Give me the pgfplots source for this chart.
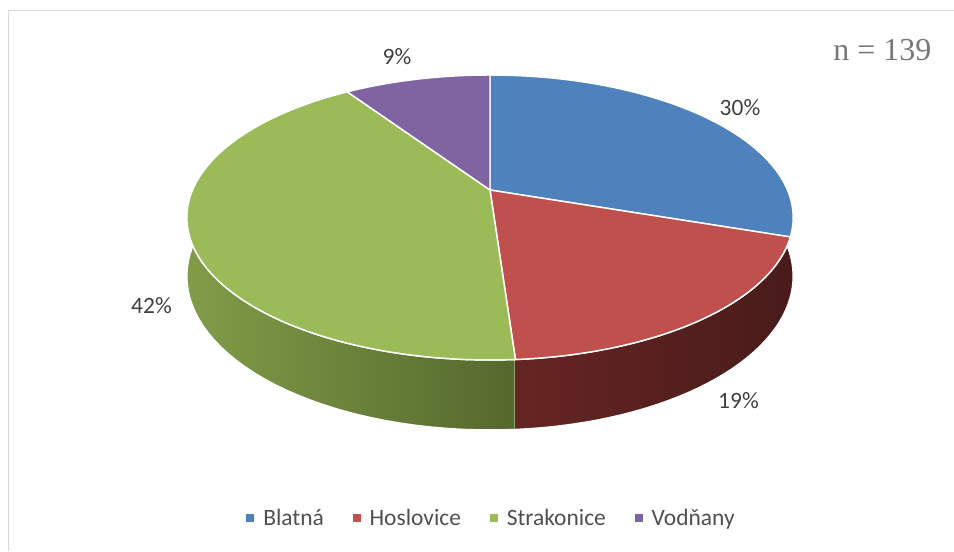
\documentclass[border=0pt]{standalone}
\usepackage{pgfplots}
\pgfplotsset{compat=1.18}
\usepackage{pgfplotstable}
\usepackage{fontspec}
\setmainfont{Carlito}
\newfontfamily\timesfont{Liberation Serif}
\definecolor{blatna}{RGB}{79,129,189}
\definecolor{hoslovice}{RGB}{192,80,77}
\definecolor{strakonice}{RGB}{155,187,89}
\definecolor{vodnany}{RGB}{128,100,162}
\definecolor{hosL}{RGB}{102,37,35}
\definecolor{hosR}{RGB}{72,27,26}
\definecolor{strL}{RGB}{130,156,72}
\definecolor{strR}{RGB}{84,104,44}
\definecolor{labelgray}{RGB}{64,64,64}
\definecolor{legendgray}{RGB}{80,80,80}
\definecolor{ngray}{RGB}{120,120,120}
\definecolor{bordergray}{RGB}{217,217,217}

\pgfplotstableread{
idx value
0 30.2
1 18.7
2 41.7
3 9.4
}\piedata

\newcommand\topsector[3]{%
  \addplot[fill=#3, draw=white, line width=1.1pt, line join=round, variable=\u,
    samples at={-1,0,1,...,60,61}, forget plot]
   ({((\u<0)||(\u>60)) ? 490 : PX(#1+(#2-#1)*\u/60)},
    {((\u<0)||(\u>60)) ? 190 : PY(#1+(#2-#1)*\u/60)});}
\newcommand\sideface[4]{%
  \addplot[shading=axis, left color=#3, right color=#4, draw=white, line width=1.1pt,
    line join=round, variable=\u, samples at={0,1,...,81}, forget plot]
   ({PX(TH(\u,#1,#2))},
    {PY(TH(\u,#1,#2)) + (\u>40)*DH(TH(\u,#1,#2))});}

\begin{document}
\begin{tikzpicture}
\pgfplotstablegetelem{0}{value}\of\piedata \let\vA\pgfplotsretval
\pgfplotstablegetelem{1}{value}\of\piedata \let\vB\pgfplotsretval
\pgfplotstablegetelem{2}{value}\of\piedata \let\vC\pgfplotsretval
\pgfplotstablegetelem{3}{value}\of\piedata \let\vD\pgfplotsretval
\pgfmathsetmacro\aA{90}
\pgfmathsetmacro\aB{\aA-3.6*\vA}
\pgfmathsetmacro\aC{\aB-3.6*\vB}
\pgfmathsetmacro\aD{\aC-3.6*\vC}
\pgfmathsetmacro\aE{\aD-3.6*\vD}
\begin{axis}[
  scale only axis, width=715.5pt, height=413.25pt,
  xmin=0, xmax=954, ymin=0, ymax=551, y dir=reverse,
  hide axis, clip=false,
  /pgf/declare function={
    den(\t)=1+0.193*sin(\t);
    PX(\t)=490+297.5*cos(\t)/den(\t);
    PY(\t)=190-137.2*sin(\t)/den(\t);
    DH(\t)=56.5/den(\t);
    TH(\u,\a,\b)=(\u<=40) ? \a+(\b-\a)*\u/40 : \a+(\b-\a)*(81-\u)/40;
  },
  legend image code/.code={\fill[#1] (0pt,-2.7pt) rectangle (5.4pt,2.7pt);},
  legend style={draw=none, fill=none, legend columns=-1,
    at={(axis cs:490.5,518)}, anchor=center,
    font=\fontsize{17.6}{21}\selectfont, text=legendgray,
    nodes={inner sep=0pt},
    /tikz/every odd column/.append style={column sep=7pt},
    /tikz/every even column/.append style={column sep=21.5pt}},
]
% side faces
\sideface{-190}{\aC}{strL}{strR}
\sideface{\aC}{0}{hosL}{hosR}
% top faces
\topsector{\aA}{\aB}{blatna}
\topsector{\aB}{\aC}{hoslovice}
\topsector{\aC}{\aD}{strakonice}
\topsector{\aD}{\aE}{vodnany}
% legend
\addlegendimage{blatna}\addlegendentry{Blatná}
\addlegendimage{hoslovice}\addlegendentry{Hoslovice}
\addlegendimage{strakonice}\addlegendentry{Strakonice}
\addlegendimage{vodnany}\addlegendentry{Vodňany}
% labels
\begin{scope}[every node/.style={font=\fontsize{17.6}{20}\selectfont, text=labelgray, anchor=base, inner sep=0pt}]
\node at (axis cs:740,115) {30\%};
\node at (axis cs:738.5,408) {19\%};
\node at (axis cs:151.5,313) {42\%};
\node at (axis cs:397,64) {9\%};
\end{scope}
\node[font=\timesfont\fontsize{24}{28}\selectfont, text=ngray, anchor=base, inner sep=0pt] at (axis cs:882.5,60) {n = 139};
% border
\draw[bordergray, line width=1.1pt] (axis cs:8.5,551) -- (axis cs:8.5,10.5) -- (axis cs:954,10.5);
\end{axis}
\pgfresetboundingbox
\path (0,0) rectangle (715.5pt,413.25pt);
\end{tikzpicture}
\end{document}
